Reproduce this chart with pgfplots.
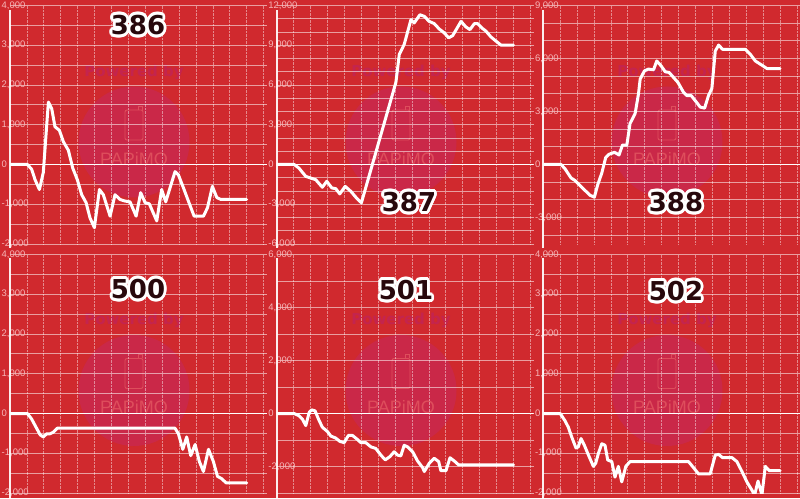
\documentclass[border=0pt]{standalone}
\usepackage{pgfplots}
\pgfplotsset{compat=1.18}
\usepackage{fontspec}
\setmainfont{Liberation Sans}
\newfontfamily\titlefont{DejaVu Sans}
\definecolor{bg}{RGB}{208,41,46}
\definecolor{wmcirc}{RGB}{202,40,72}
\definecolor{wmtext}{RGB}{196,36,78}
\definecolor{wmlogo}{RGB}{222,78,92}
\definecolor{labcol}{RGB}{246,182,184}
\definecolor{ttlcol}{RGB}{40,8,12}
\pgfplotsset{
 panel/.style={scale only axis, width=257pt, height=238.5pt, xmin=0, xmax=15.2,
  anchor=south west, clip=true,
  axis line style={draw=none}, tick style={draw=none},
  major tick style={draw=none}, minor tick style={draw=none},
  xtick={1,...,15}, xticklabels={}, xmajorgrids=true,
  x grid style={white, opacity=0.45, densely dotted, line width=0.7pt},
  ymajorgrids=true, yminorgrids=true,
  y grid style={white, opacity=0.55, line width=0.9pt},
  yticklabel style={font=\fontsize{9.5}{10}\selectfont, text=labcol, anchor=west, inner sep=0pt, xshift=-8.5pt}},
 dline/.style={white, line width=3pt, line join=round, line cap=round, mark=none},
}
\newcommand\wm[2]{%
 \fill[wmcirc] (#1,#2) circle (55.5);
 \node[text=wmtext, font=\titlefont\bfseries\fontsize{15}{15}\selectfont] at (#1,#2+70) {Powered by};
 \draw[wmlogo, line width=0.9pt, rounded corners=2pt] (#1-9,#2+2) rectangle (#1+9,#2+32);
 \draw[wmlogo, line width=0.9pt] (#1+4,#2+32) -- (#1+4,#2+36) -- (#1+8,#2+36) -- (#1+8,#2+32);
 \node[text=wmlogo, font=\fontsize{18}{18}\selectfont] at (#1,#2-17) {PAPiMO};
}
\newcommand\ttl[3]{%
 \foreach \a in {0,22.5,...,337.5}{\node[text=white, font=\titlefont\bfseries\fontsize{26}{26}\selectfont, shift={(\a:2.9pt)}] at (#1,#2) {#3};}
 \node[text=ttlcol, font=\titlefont\bfseries\fontsize{26}{26}\selectfont] at (#1,#2) {#3};
}
\begin{document}
\begin{tikzpicture}[x=1pt,y=1pt]
\useasboundingbox (0,0) rectangle (800,498);
\clip (0,0) rectangle (800,498);
\fill[bg] (0,0) rectangle (800,498);
\wm{134}{356}\wm{401}{356}\wm{667}{356}
\wm{134}{107.5}\wm{401}{107.5}\wm{667}{107.5}

% 386
\begin{axis}[panel, at={(10pt,254pt)}, ymin=-2000, ymax=4000,
 ytick={-2000,-1000,...,4000}, yticklabels={{-2,000},{-1,000},{0},{1,000},{2,000},{3,000},{4,000}},
 minor ytick={-1500,-500,...,3500}]
\draw[white, line width=1.8pt] (axis cs:0,0) -- (axis cs:15.2,0);
\addplot[dline] coordinates {(0,0) (1.03,0) (1.28,-120) (1.48,-380) (1.74,-630) (1.97,-200) (2.27,1570) (2.47,1400) (2.66,950) (2.92,860) (3.16,570) (3.45,360) (3.71,-90) (3.98,-380) (4.24,-760) (4.50,-960) (4.73,-1340) (4.99,-1590) (5.29,-630) (5.52,-760) (5.92,-1300) (6.21,-760) (6.51,-880) (6.80,-920) (7.10,-940) (7.46,-1300) (7.73,-710) (7.99,-960) (8.24,-990) (8.68,-1420) (8.97,-630) (9.21,-940) (9.76,-180) (9.96,-260) (10.26,-590) (10.55,-920) (10.89,-1300) (11.44,-1300) (11.68,-1090) (11.97,-550) (12.23,-830) (12.47,-880) (14,-880)};
\end{axis}

% 387
\begin{axis}[panel, at={(276.7pt,254pt)}, ymin=-6000, ymax=12000,
 ytick={-6000,-3000,...,12000}, yticklabels={{-6,000},{-3,000},{0},{3,000},{6,000},{9,000},{12,000}},
 minor ytick={-5000,-4000,-2000,-1000,1000,2000,4000,5000,7000,8000,10000,11000}]
\draw[white, line width=1.8pt] (axis cs:0,0) -- (axis cs:15.2,0);
\addplot[dline] coordinates {(0,0) (1.03,0) (1.32,-280) (1.72,-900) (2.01,-1020) (2.31,-1150) (2.70,-1720) (2.96,-1270) (3.26,-1770) (3.49,-1820) (3.73,-2220) (4.05,-1650) (4.38,-2020) (4.68,-2470) (5.01,-2890) (7.05,6200) (7.25,8300) (7.54,9060) (7.94,10930) (8.13,10680) (8.47,11300) (8.73,11180) (9.02,10800) (9.32,10630) (9.61,10230) (9.91,9930) (10.17,9560) (10.41,9730) (10.64,10230) (10.90,10800) (11.19,10380) (11.43,10180) (11.69,10630) (11.89,10630) (12.14,10300) (12.38,10060) (12.67,9630) (12.97,9310) (13.27,9010) (14,9010)};
\end{axis}

% 388
\begin{axis}[panel, at={(543.3pt,254pt)}, ymin=-4500, ymax=9000,
 ytick={-3000,0,3000,6000,9000}, yticklabels={{-3,000},{0},{3,000},{6,000},{9,000}},
 minor ytick={-4000,-2000,-1000,1000,2000,4000,5000,7000,8000}]
\draw[white, line width=1.8pt] (axis cs:0,0) -- (axis cs:15.2,0);
\addplot[dline] coordinates {(0,0) (1.05,0) (1.28,-240) (1.64,-760) (1.88,-910) (2.17,-1190) (2.47,-1470) (2.76,-1740) (3.02,-1850) (3.22,-1140) (3.46,-480) (3.69,390) (3.89,580) (4.21,690) (4.48,540) (4.68,1100) (4.94,1100) (5.13,2320) (5.43,2880) (5.63,4000) (5.73,4840) (5.98,5300) (6.22,5400) (6.52,5360) (6.71,5860) (6.97,5580) (7.21,5250) (7.44,5210) (7.70,4930) (7.96,4650) (8.29,4090) (8.49,3900) (8.75,3900) (8.98,3620) (9.28,3250) (9.54,3190) (9.77,3900) (9.97,4310) (10.17,6420) (10.37,6760) (10.60,6520) (10.76,6520) (11.94,6520) (12.24,6240) (12.54,5860) (12.93,5620) (13.23,5430) (14,5430)};
\end{axis}

% 500
\begin{axis}[panel, at={(10pt,5pt)}, ymin=-2000, ymax=4000,
 ytick={-2000,-1000,...,4000}, yticklabels={{-2,000},{-1,000},{0},{1,000},{2,000},{3,000},{4,000}},
 minor ytick={-1500,-500,...,3500}]
\draw[white, line width=1.8pt] (axis cs:0,0) -- (axis cs:15.2,0);
\addplot[dline] coordinates {(0,0) (1.03,0) (1.28,-140) (1.54,-345) (1.78,-535) (1.97,-590) (2.17,-510) (2.37,-510) (2.56,-470) (2.80,-370) (2.96,-370) (9.76,-370) (9.96,-510) (10.22,-900) (10.45,-590) (10.69,-1060) (10.95,-780) (11.20,-1210) (11.44,-1460) (11.74,-900) (12.03,-1210) (12.27,-1580) (12.52,-1640) (12.78,-1745) (14,-1745)};
\end{axis}

% 501
\begin{axis}[panel, at={(276.7pt,5pt)}, ymin=-3000, ymax=6000,
 ytick={-2000,0,2000,4000,6000}, yticklabels={{-2,000},{0},{2,000},{4,000},{6,000}},
 minor ytick={-3000,-1000,1000,3000,5000}]
\draw[white, line width=1.8pt] (axis cs:0,0) -- (axis cs:15.2,0);
\addplot[dline] coordinates {(0,0) (1.03,0) (1.32,-86) (1.52,-210) (1.72,-457) (1.92,40) (2.07,136) (2.27,100) (2.47,-210) (2.70,-519) (3.00,-680) (3.20,-852) (3.49,-926) (3.73,-1050) (3.99,-1100) (4.24,-827) (4.48,-827) (4.72,-951) (4.98,-1100) (5.27,-1100) (5.57,-1260) (5.86,-1320) (6.16,-1570) (6.42,-1750) (6.69,-1630) (6.95,-1445) (7.15,-1570) (7.34,-1600) (7.54,-1200) (7.74,-1260) (8.04,-1445) (8.33,-1790) (8.63,-2040) (8.73,-2190) (9.02,-1880) (9.32,-1690) (9.58,-1815) (9.71,-2160) (10.01,-2160) (10.25,-1670) (10.50,-1790) (10.76,-1940) (14,-1940)};
\end{axis}

% 502
\begin{axis}[panel, at={(543.3pt,5pt)}, ymin=-2000, ymax=4000,
 ytick={-2000,-1000,...,4000}, yticklabels={{-2,000},{-1,000},{0},{1,000},{2,000},{3,000},{4,000}},
 minor ytick={-1500,-500,...,3500}]
\draw[white, line width=1.8pt] (axis cs:0,0) -- (axis cs:15.2,0);
\addplot[dline] coordinates {(0,0) (1.0,0) (1.28,-180) (1.48,-345) (1.68,-590) (1.93,-865) (2.07,-840) (2.23,-630) (2.43,-800) (2.67,-1045) (2.96,-1330) (3.10,-1250) (3.26,-1000) (3.46,-760) (3.65,-800) (3.81,-1170) (4.05,-1210) (4.24,-1600) (4.44,-1330) (4.64,-1720) (4.88,-1330) (5.13,-1210) (8.59,-1210) (8.88,-1360) (9.18,-1520) (9.87,-1520) (10.17,-1045) (10.37,-1030) (10.60,-1110) (11.16,-1110) (11.45,-1210) (11.75,-1460) (12.04,-1720) (12.34,-1930) (12.5,-2050) (12.70,-1700) (12.93,-2050) (13.13,-1330) (13.37,-1440) (14,-1440)};
\end{axis}

% left axis lines
\foreach \xx in {10,276.7,543.3}{
 \draw[white, opacity=0.92, line width=2pt] (\xx,488) -- (\xx,250);
 \draw[white, opacity=0.92, line width=2pt] (\xx,240) -- (\xx,0);
}
% titles
\ttl{138}{473}{386}
\ttl{409}{296}{387}
\ttl{676}{296}{388}
\ttl{138}{209}{500}
\ttl{406}{208}{501}
\ttl{676}{207}{502}
\end{tikzpicture}
\end{document}
